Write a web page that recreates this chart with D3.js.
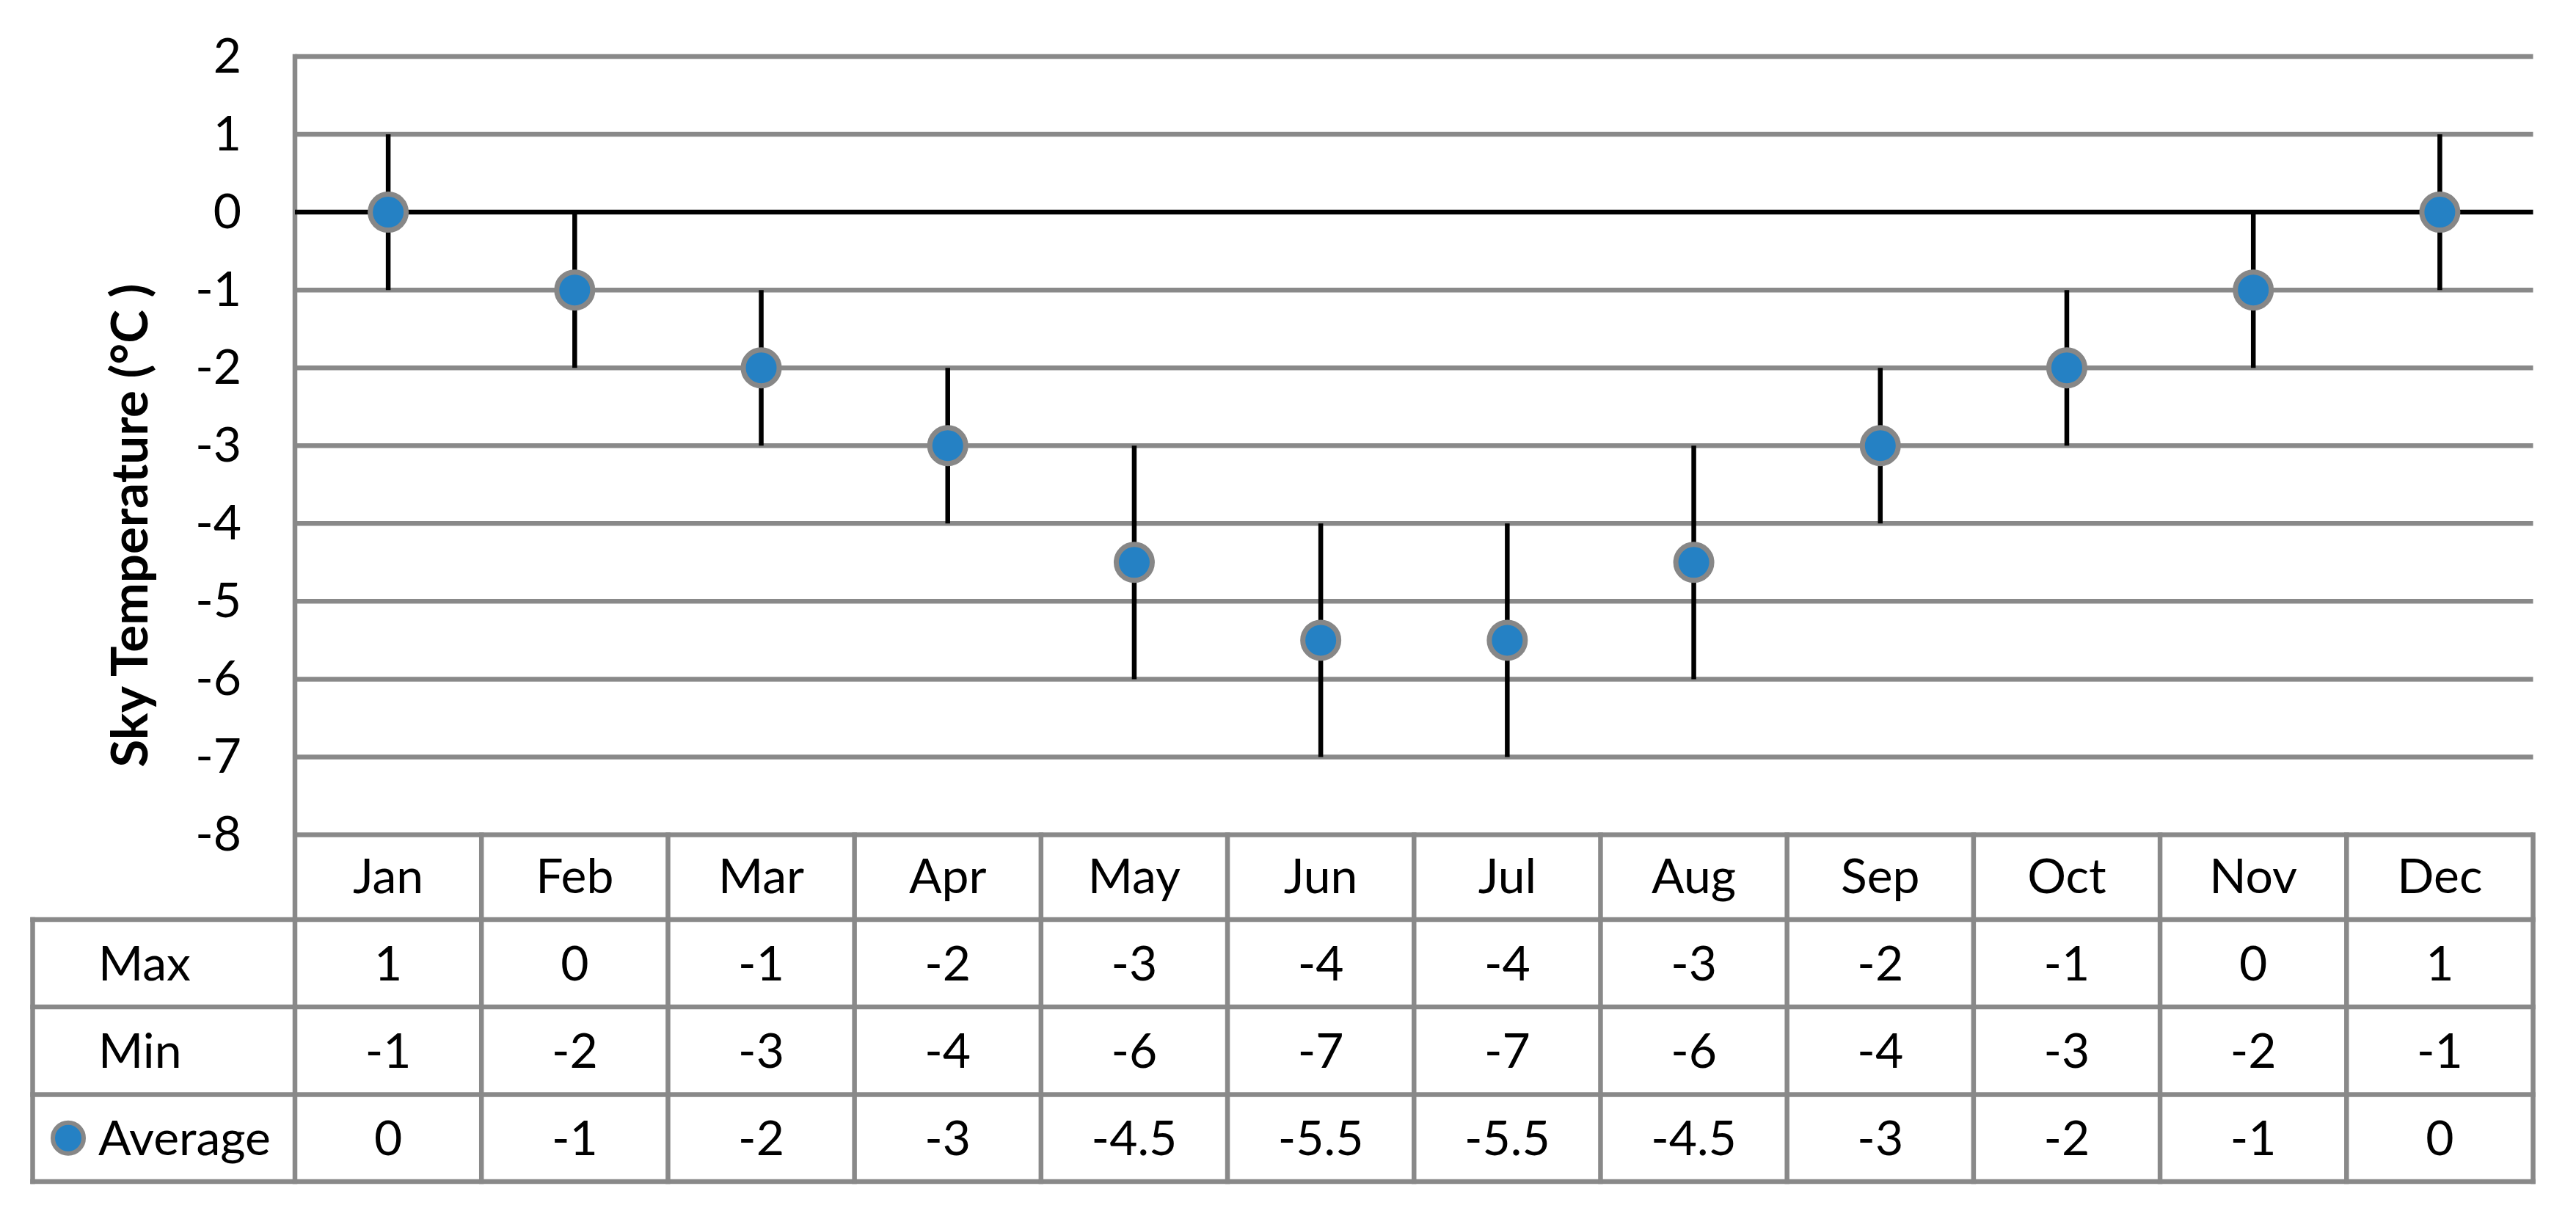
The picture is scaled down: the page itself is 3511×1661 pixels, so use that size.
<!DOCTYPE html>
<html>
<head>
<meta charset="utf-8">
<script src="https://cdn.jsdelivr.net/npm/d3@7"></script>
<style>
  html, body { margin: 0; padding: 0; background: #ffffff; }
  svg { display: block; }
</style>
</head>
<body>
<script>
// ---------------- DATA ----------------
const months = ["Jan", "Feb", "Mar", "Apr", "May", "Jun", "Jul", "Aug", "Sep", "Oct", "Nov", "Dec"];
const maxVals = [1, 0, -1, -2, -3, -4, -4, -3, -2, -1, 0, 1];
const minVals = [-1, -2, -3, -4, -6, -7, -7, -6, -4, -3, -2, -1];
const avgVals = [0, -1, -2, -3, -4.5, -5.5, -5.5, -4.5, -3, -2, -1, 0];
const yTicks = [2, 1, 0, -1, -2, -3, -4, -5, -6, -7, -8];
const rowLabels = ["Max", "Min", "Average"];
const yTitle = "Sky Temperature (°C )";

// ---------------- LAYOUT ----------------
const W = 3511, H = 1661;
const plotLeft = 402, plotRight = 3452.5, yTop = 77, yBottom = 1137.5;
const tableLeft = 44.5;
const rowEdges = [1137.5, 1253, 1372, 1491.5, 1610];
const gridColor = "#898989";
const lw = 6.5;
const font = "Lato, 'Open Sans', sans-serif";
const fs = 66;

const svg = d3.select("body").append("svg").attr("width", W).attr("height", H);
svg.append("rect").attr("width", W).attr("height", H).attr("fill", "#fff");

const x = d3.scaleBand().domain(months).range([plotLeft, plotRight]).padding(0);
const y = d3.scaleLinear().domain([-8, 2]).range([yBottom, yTop]);
const bw = x.bandwidth();
const cx = m => x(m) + bw / 2;

// gridlines (non-zero)
svg.append("g").selectAll("line")
  .data(yTicks.filter(d => d !== 0))
  .join("line")
  .attr("x1", plotLeft).attr("x2", plotRight)
  .attr("y1", d => y(d)).attr("y2", d => y(d))
  .attr("stroke", gridColor).attr("stroke-width", lw);

// table lines
const tbl = svg.append("g").attr("stroke", gridColor).attr("stroke-width", lw).attr("stroke-linecap", "square");
rowEdges.slice(1).forEach(r => {
  tbl.append("line").attr("x1", tableLeft).attr("x2", plotRight).attr("y1", r).attr("y2", r);
});
tbl.append("line").attr("x1", tableLeft).attr("x2", tableLeft).attr("y1", rowEdges[1]).attr("y2", rowEdges[4]);
tbl.selectAll("line.col")
  .data(months.slice(1))
  .join("line").attr("class", "col")
  .attr("x1", d => x(d)).attr("x2", d => x(d))
  .attr("y1", rowEdges[0]).attr("y2", rowEdges[4]);
tbl.append("line").attr("x1", plotRight).attr("x2", plotRight).attr("y1", rowEdges[0]).attr("y2", rowEdges[4]);
// left axis line (plot + table)
tbl.append("line").attr("x1", plotLeft).attr("x2", plotLeft).attr("y1", yTop).attr("y2", rowEdges[4]);

// zero line
svg.append("line")
  .attr("x1", plotLeft).attr("x2", plotRight)
  .attr("y1", y(0)).attr("y2", y(0))
  .attr("stroke", "#000").attr("stroke-width", lw);

// y axis labels
const yAxisG = svg.append("g")
  .attr("transform", `translate(${plotLeft},0)`)
  .call(d3.axisLeft(y).tickValues(yTicks).tickSize(0).tickPadding(73).tickFormat(d => String(d)));
yAxisG.select(".domain").remove();
yAxisG.attr("font-family", font).attr("font-size", fs);
yAxisG.selectAll("text").attr("fill", "#000").attr("dy", "0.32em");

// y title
svg.append("text")
  .attr("transform", `translate(201, 716) rotate(-90)`)
  .attr("text-anchor", "middle")
  .attr("font-family", font).attr("font-size", 69).attr("font-weight", "bold")
  .attr("fill", "#000")
  .text(yTitle);

// error bars
svg.append("g").selectAll("line")
  .data(months)
  .join("line")
  .attr("x1", d => cx(d)).attr("x2", d => cx(d))
  .attr("y1", (d, i) => y(maxVals[i])).attr("y2", (d, i) => y(minVals[i]))
  .attr("stroke", "#000").attr("stroke-width", lw);

// markers
svg.append("g").selectAll("circle")
  .data(months)
  .join("circle")
  .attr("cx", d => cx(d)).attr("cy", (d, i) => y(avgVals[i]))
  .attr("r", 24.5)
  .attr("fill", "#2581C4").attr("stroke", "#878787").attr("stroke-width", 7);

// table text
const rowCenter = i => (rowEdges[i] + rowEdges[i + 1]) / 2;
const tx = svg.append("g").attr("font-family", font).attr("font-size", fs).attr("fill", "#000");
tx.selectAll("text.hdr")
  .data(months).join("text").attr("class", "hdr")
  .attr("x", d => cx(d)).attr("y", rowCenter(0) + 22)
  .attr("text-anchor", "middle").text(d => d);

const series = [maxVals, minVals, avgVals];
series.forEach((vals, r) => {
  tx.selectAll(`text.r${r}`)
    .data(vals).join("text").attr("class", `r${r}`)
    .attr("x", (d, i) => cx(months[i])).attr("y", rowCenter(r + 1) + 23)
    .attr("text-anchor", "middle").text(d => String(d));
  tx.append("text")
    .attr("x", 134).attr("y", rowCenter(r + 1) + 23)
    .attr("text-anchor", "start").text(rowLabels[r]);
});

// legend marker in Average row
svg.append("circle")
  .attr("cx", 93).attr("cy", rowCenter(3))
  .attr("r", 21)
  .attr("fill", "#2581C4").attr("stroke", "#878787").attr("stroke-width", 6);
</script>
</body>
</html>
